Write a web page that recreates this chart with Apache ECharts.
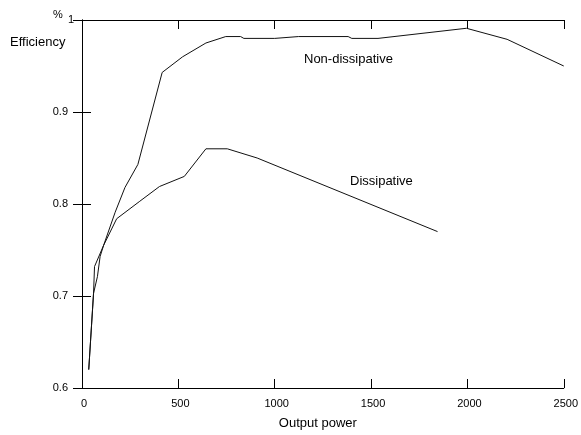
<!DOCTYPE html>
<html>
<head>
<meta charset="utf-8">
<script src="https://cdn.jsdelivr.net/npm/echarts@6/dist/echarts.min.js"></script>
<style>html,body{margin:0;padding:0;background:#fff;}#c{width:581px;height:435px;}</style>
</head>
<body>
<div id="c"></div>
<script>
var nonDissX = [35, 60, 80, 94, 112, 172, 223, 290, 416, 522, 643, 746, 823, 840, 1000, 1124, 1381, 1400, 1536, 1995, 2206, 2500];
var nonDissY = [0.62, 0.703, 0.721, 0.743, 0.755, 0.791, 0.818, 0.843, 0.943, 0.960, 0.975, 0.982, 0.982, 0.980, 0.980, 0.982, 0.982, 0.980, 0.980, 0.991, 0.979, 0.950];
var dissX = [35, 60, 65, 112, 180, 300, 402, 531, 643, 754, 909, 1845];
var dissY = [0.62, 0.703, 0.732, 0.755, 0.784, 0.803, 0.819, 0.830, 0.860, 0.860, 0.850, 0.770];
var xTicks = [0, 500, 1000, 1500, 2000, 2500];
var yTicks = [0.6, 0.7, 0.8, 0.9, 1];
var seriesNames = ['Non-dissipative', 'Dissipative'];

function pairs(xs, ys) { return xs.map(function (x, i) { return [x, ys[i]]; }); }

var font = 'Liberation Sans, Arial, sans-serif';
var chart = echarts.init(document.getElementById('c'), null, { renderer: 'canvas' });
var tickStyle = { show: true, inside: true, length: 9, lineStyle: { color: '#000', width: 1 } };
var lineStyle = { show: true, lineStyle: { color: '#000', width: 1 } };
chart.setOption({
  backgroundColor: '#fff',
  animation: false,
  grid: { left: 82, right: 14, top: 20, bottom: 42, containLabel: false },
  xAxis: [{
    type: 'value', min: xTicks[0], max: xTicks[xTicks.length - 1], interval: 500, position: 'bottom',
    axisLine: lineStyle, axisTick: tickStyle, splitLine: { show: false },
    axisLabel: {
      color: '#000', fontFamily: font, fontSize: 11, margin: 10, padding: [0, 0, 0, 4],
      formatter: function (v) { return String(v); }
    },
    name: 'Output power', nameLocation: 'middle', nameGap: 29,
    nameTextStyle: { color: '#000', fontFamily: font, fontSize: 13, padding: [0, 10, 0, 0] }
  }, {
    type: 'value', min: xTicks[0], max: xTicks[xTicks.length - 1], interval: 500, position: 'top',
    axisLine: lineStyle, axisTick: tickStyle, splitLine: { show: false }, axisLabel: { show: false }
  }],
  yAxis: [{
    type: 'value', min: yTicks[0], max: yTicks[yTicks.length - 1], interval: 0.1, position: 'left',
    axisLine: lineStyle, axisTick: tickStyle, splitLine: { show: false },
    axisLabel: {
      color: '#000', fontFamily: font, fontSize: 11, margin: 8,
      formatter: function (v) {
        var r = Math.round(v * 10) / 10;
        return r === 1 ? '{o|1}' : '{n|' + r.toFixed(1) + '}';
      },
      rich: {
        o: { color: '#000', fontFamily: font, fontSize: 11 },
        n: { color: '#000', fontFamily: font, fontSize: 11, padding: [0, 6, 0, 0] }
      }
    }
  }, {
    type: 'value', min: yTicks[0], max: yTicks[yTicks.length - 1], interval: 0.1, position: 'right',
    axisLine: lineStyle, axisTick: tickStyle, splitLine: { show: false }, axisLabel: { show: false }
  }],
  series: [{
    name: seriesNames[0], type: 'line', data: pairs(nonDissX, nonDissY),
    showSymbol: false, symbol: 'none', lineStyle: { color: '#111', width: 1 }, z: 3
  }, {
    name: seriesNames[1], type: 'line', data: pairs(dissX, dissY),
    showSymbol: false, symbol: 'none', lineStyle: { color: '#111', width: 1 }, z: 3
  }],
  graphic: [
    { type: 'text', left: 53, top: 9, style: { text: '%', fill: '#000', font: '11px ' + font } },
    { type: 'text', left: 10, top: 36, style: { text: 'Efficiency', fill: '#000', font: '13px ' + font } },
    { type: 'text', left: 304, top: 53, style: { text: seriesNames[0], fill: '#000', font: '13px ' + font } },
    { type: 'text', left: 350, top: 175, style: { text: seriesNames[1], fill: '#000', font: '13px ' + font } }
  ]
});
</script>
</body>
</html>
